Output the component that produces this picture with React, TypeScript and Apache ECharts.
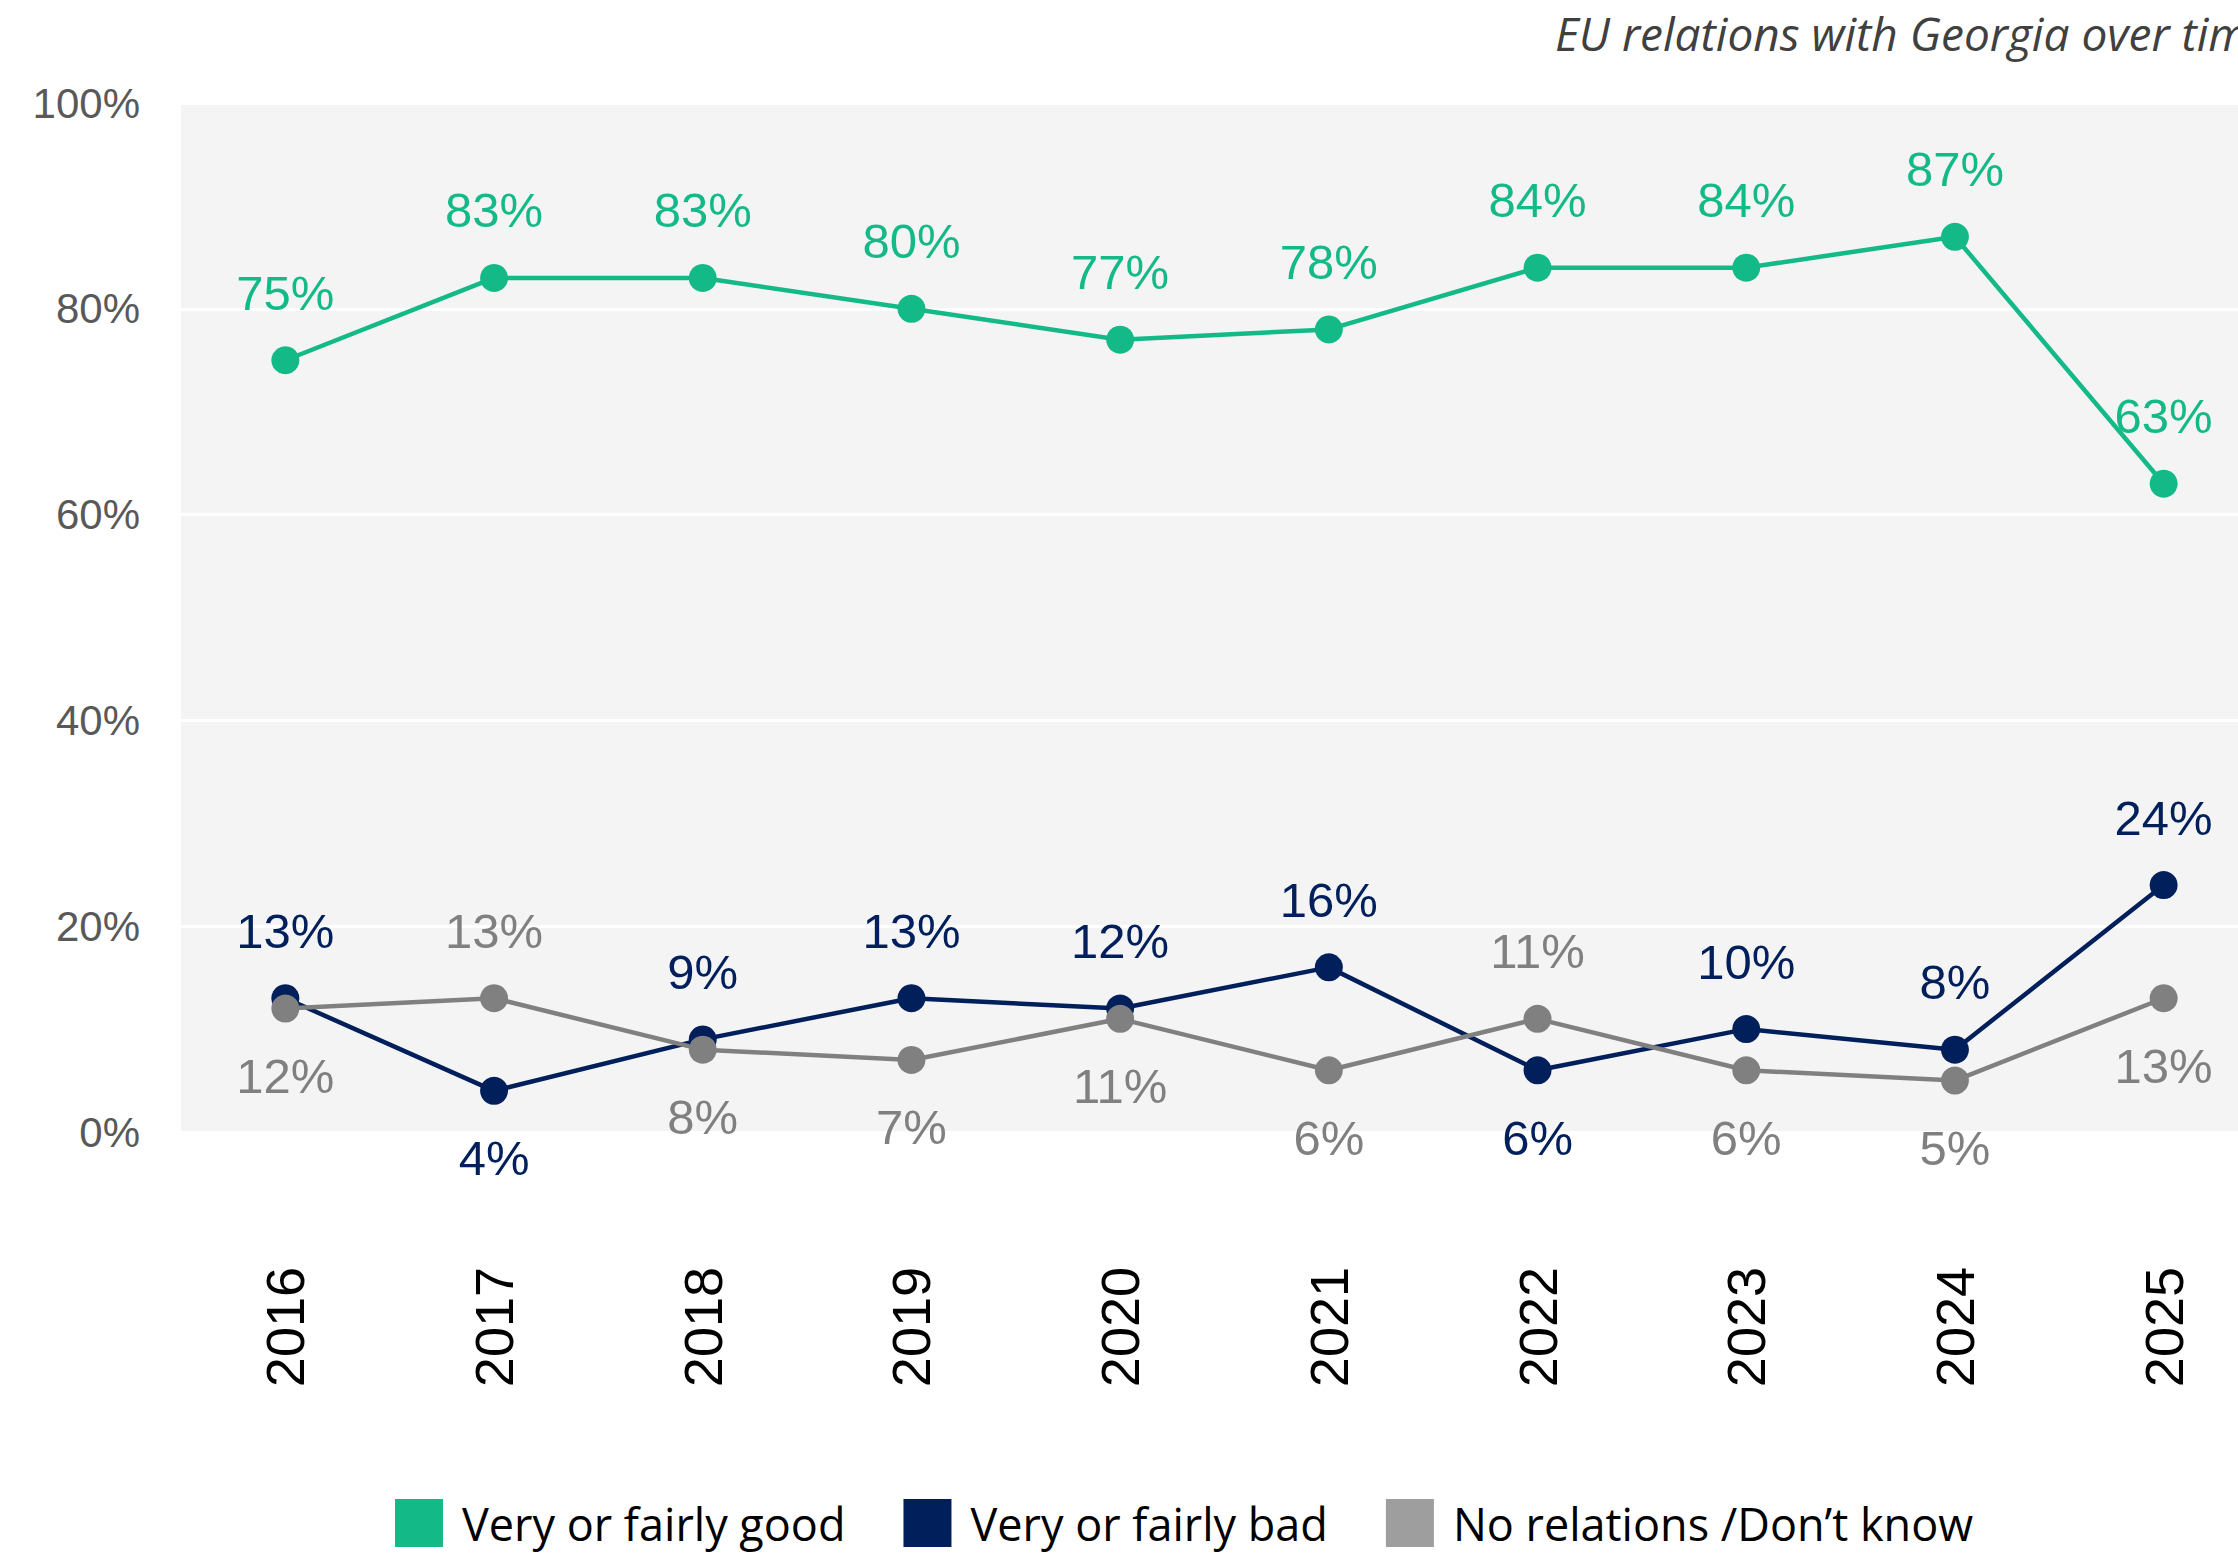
import React, { useEffect, useRef } from "react";
import * as echarts from "echarts";

const years = ["2016", "2017", "2018", "2019", "2020", "2021", "2022", "2023", "2024", "2025"];
const good = [75, 83, 83, 80, 77, 78, 84, 84, 87, 63];
const bad = [13, 4, 9, 13, 12, 16, 6, 10, 8, 24];
const noRel = [12, 13, 8, 7, 11, 6, 11, 6, 5, 13];
// label placement: "t" = above the point, "b" = below
const goodPos = ["t", "t", "t", "t", "t", "t", "t", "t", "t", "t"];
const badPos = ["t", "b", "t", "t", "t", "t", "b", "t", "t", "t"];
const noRelPos = ["b", "t", "b", "b", "b", "b", "t", "b", "b", "b"];
const yTicks = [0, 20, 40, 60, 80, 100];

const GREEN = "#13B987";
const NAVY = "#001F5B";
const GRAY = "#808080";
const GRAY_LEG = "#9E9E9E";

function mk(values: number[], pos: string[]) {
  return values.map((v, i) => ({
    value: v,
    label: { position: pos[i] === "t" ? "top" : "bottom" },
  }));
}

export default function App() {
  const ref = useRef<HTMLDivElement>(null);
  useEffect(() => {
    if (!ref.current) return;
    const chart = echarts.init(ref.current, null, { renderer: "svg" });
    const labelBase = {
      show: true,
      formatter: (p: any) => p.value + "%",
      fontSize: 49,
      fontFamily: "Liberation Sans, Arial, sans-serif",
      distance: 29,
    };
    const lineSeries = (name: string, data: any[], color: string) => ({
      name,
      type: "line",
      data,
      symbol: "circle",
      symbolSize: 28,
      lineStyle: { color, width: 4.5 },
      itemStyle: { color },
      label: { ...labelBase, color },
    });
    chart.setOption({
      animation: false,
      backgroundColor: "#ffffff",
      title: {
        text: "EU relations with Georgia over time",
        left: 1550,
        top: 5,
        textStyle: {
          fontStyle: "italic",
          fontWeight: "normal",
          fontSize: 46,
          color: "#404040",
          fontFamily: "Open Sans, sans-serif",
        },
      },
      grid: {
        left: 181,
        width: 2087,
        top: 103,
        height: 1029,
        outerBoundsMode: "none",
        show: true,
        backgroundColor: "#F4F4F4",
        borderWidth: 0,
      },
      legend: {
        left: 390,
        top: 1494,
        icon: "rect",
        itemWidth: 48,
        itemHeight: 48,
        itemGap: 58,
        textStyle: {
          fontSize: 45,
          lineHeight: 48,
          color: "#000000",
          fontFamily: "Open Sans, sans-serif",
          padding: [0, 0, 0, 14],
        },
        data: [
          { name: "Very or fairly good", itemStyle: { color: GREEN } },
          { name: "Very or fairly bad", itemStyle: { color: NAVY } },
          { name: "No relations /Don\u2019t know", itemStyle: { color: GRAY_LEG } },
        ],
      },
      xAxis: {
        type: "category",
        data: years,
        boundaryGap: true,
        axisLine: { show: false },
        axisTick: { show: false },
        axisLabel: {
          rotate: 90,
          margin: 135,
          fontSize: 54,
          color: "#000000",
          fontFamily: "Liberation Sans, Arial, sans-serif",
        },
      },
      yAxis: {
        type: "value",
        min: yTicks[0],
        max: yTicks[yTicks.length - 1],
        interval: 20,
        axisLine: { show: false },
        axisTick: { show: false },
        splitLine: { lineStyle: { color: "#ffffff", width: 3 } },
        axisLabel: {
          formatter: "{value}%",
          margin: 41,
          fontSize: 42,
          color: "#595959",
          fontFamily: "Liberation Sans, Arial, sans-serif",
          padding: [0, 0, 8, 0],
        },
      },
      series: [
        lineSeries("Very or fairly good", mk(good, goodPos), GREEN),
        lineSeries("Very or fairly bad", mk(bad, badPos), NAVY),
        lineSeries("No relations /Don\u2019t know", mk(noRel, noRelPos), GRAY),
      ],
    });
    return () => chart.dispose();
  }, []);
  return (
    <div
      ref={ref}
      style={{ position: "fixed", left: 0, top: 0, width: 2238, height: 1554 }}
    />
  );
}
